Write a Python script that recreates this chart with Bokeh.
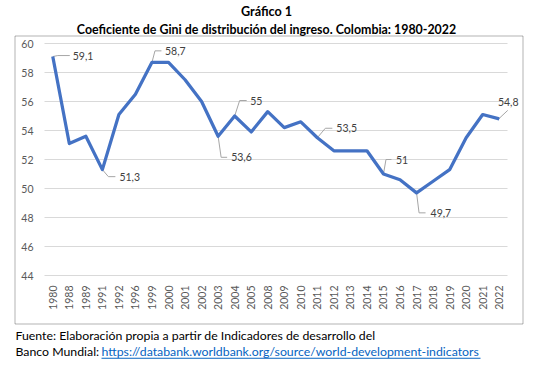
from bokeh.plotting import figure
from bokeh.models import Range1d, FixedTicker, Label, BoxAnnotation, ColumnDataSource
from bokeh.core.properties import value
from bokeh.embed import file_html
from bokeh.resources import INLINE
import math

# ---------------- data ----------------
years = ["1980", "1988", "1989", "1991", "1992", "1996", "1999", "2000", "2001",
         "2002", "2003", "2004", "2005", "2008", "2009", "2010", "2011", "2012",
         "2013", "2014", "2015", "2016", "2017", "2018", "2019", "2020", "2021",
         "2022"]
gini = [59.1, 53.1, 53.6, 51.3, 55.1, 56.5, 58.7, 58.7, 57.5,
        56.0, 53.6, 55.0, 53.9, 55.3, 54.2, 54.6, 53.5, 52.6,
        52.6, 52.6, 51.0, 50.6, 49.7, 50.5, 51.3, 53.5, 55.1,
        54.8]
y_ticks = [44, 46, 48, 50, 52, 54, 56, 58, 60]
labeled_years = ["1980", "1991", "1999", "2003", "2004", "2011", "2015", "2017", "2022"]

title1 = "Gráfico 1"
title2 = "Coeficiente de Gini de distribución del ingreso. Colombia: 1980-2022"
source1 = "Fuente: Elaboración propia a partir de Indicadores de desarrollo del"
source2 = "Banco Mundial: "
link = "https://databank.worldbank.org/source/world-development-indicators"

# ---------------- layout / style ----------------
FONT = "Lato"
W, H = 533, 369
AREA_L, AREA_R, AREA_T, AREA_B = 44, 507, 43, 275   # plot area in canvas px
PXX = (AREA_R - AREA_L) / len(years)
PXY = (AREA_B - AREA_T) / (y_ticks[-1] - y_ticks[0])

# leader geometry offsets in px (dx right, dy down): elbow, end, label, align
leader_layout = {
    "1980": ((5, -1), (17, -1), (20, -1), "left"),
    "1991": ((6, 7), (13, 7), (17, 7.5), "left"),
    "1999": ((3, -11.5), (9.5, -11.5), (13, -11.5), "left"),
    "2003": ((3, 21), (9, 21), (13, 21), "left"),
    "2004": ((5, -15.5), (12, -15.5), (15.5, -15.5), "left"),
    "2011": ((8, -9.5), (15, -9.5), (19, -9.5), "left"),
    "2015": ((2.5, -14.5), (8, -14.5), (12.5, -14.5), "left"),
    "2017": ((2.5, 20), (9, 20), (14, 20), "left"),
    "2022": ((0.5, -1), (8.5, -8.5), (9, -17), "center"),
}

x_range = Range1d(-AREA_L / PXX, len(years) + (W - AREA_R) / PXX)
y_range = Range1d(y_ticks[0] - (H - AREA_B) / PXY, y_ticks[-1] + AREA_T / PXY)

p = figure(width=W, height=H, output_backend="svg", toolbar_location=None,
           x_range=x_range, y_range=y_range, min_border=0)
p.min_border_left = p.min_border_right = p.min_border_top = p.min_border_bottom = 0
p.background_fill_color = "white"
p.border_fill_color = "white"
p.outline_line_color = None
p.xgrid.visible = False
p.ygrid.visible = False

# axes (drawn at the plot-area edges)
xpos = [i + 0.5 for i in range(len(years))]
p.xaxis.fixed_location = y_ticks[0]
p.xaxis.ticker = FixedTicker(ticks=xpos)
p.xaxis.major_label_overrides = {x: y for x, y in zip(xpos, years)}
p.xaxis.major_label_orientation = math.pi / 2
p.xaxis.major_label_standoff = 4
p.yaxis.fixed_location = 0
p.yaxis.ticker = FixedTicker(ticks=y_ticks)
p.yaxis.major_label_standoff = 5
for ax in (p.xaxis, p.yaxis):
    ax.axis_line_color = None
    ax.major_tick_line_color = None
    ax.minor_tick_line_color = None
    ax.major_label_text_font = FONT
    ax.major_label_text_font_size = "10.5px"
    ax.major_label_text_color = "#595959"

# horizontal gridlines over the plot area
p.segment(x0=[0] * len(y_ticks), x1=[len(years)] * len(y_ticks), y0=y_ticks, y1=y_ticks,
          line_color="#D9D9D9", line_width=1)

# leaders and data labels
lead_xs, lead_ys = [], []
lab = dict(x=[], y=[], text=[], align=[])
for yr in labeled_years:
    i = years.index(yr)
    x0, y0 = xpos[i], gini[i]
    (edx, edy), (ndx, ndy), (ldx, ldy), al = leader_layout[yr]
    lead_xs.append([x0, x0 + edx / PXX, x0 + ndx / PXX])
    lead_ys.append([y0, y0 - edy / PXY, y0 - ndy / PXY])
    lab["x"].append(x0 + ldx / PXX)
    lab["y"].append(y0 - ldy / PXY)
    lab["text"].append(f"{gini[i]:g}".replace(".", ","))
    lab["align"].append(al)

p.multi_line(lead_xs, lead_ys, line_color="#A6A6A6", line_width=1)
p.line(xpos, gini, line_color="#4472C4", line_width=3.25, line_join="round")
p.text(x="x", y="y", text="text", source=ColumnDataSource(lab),
       text_align="align", text_baseline="middle", text_font=value(FONT),
       text_font_size="10.5px", text_color="#404040")

# titles / source (screen units, y measured up from the canvas bottom)
def lbl(text, x, y_top, size, bold=False, align="left", color="#000000"):
    p.add_layout(Label(x=x, y=H - y_top, x_units="screen", y_units="screen", text=text,
                       text_font=FONT, text_font_size=size,
                       text_font_style="bold" if bold else "normal",
                       text_align=align, text_baseline="alphabetic", text_color=color))

lbl(title1, 266, 11.3, "12.6px", bold=True, align="center")
lbl(title2, 266, 29, "12.4px", bold=True, align="center")
lbl(source1, 15, 334.7, "12.3px")
lbl(source2, 15, 351, "12.3px")
lbl(link, 101, 351, "12.3px", color="#0563C1")
p.add_layout(BoxAnnotation(left=101, right=480, top=H - 357.2, bottom=H - 358.2,
                           left_units="screen", right_units="screen",
                           top_units="screen", bottom_units="screen",
                           fill_color="#0563C1", fill_alpha=1, line_color=None))
p.add_layout(BoxAnnotation(left=14.5, right=522.5, top=H - 35.5, bottom=H - 323.5,
                           left_units="screen", right_units="screen",
                           top_units="screen", bottom_units="screen",
                           fill_alpha=0, line_color="black", line_width=1))

open("out.html", "w").write(file_html(p, INLINE))
